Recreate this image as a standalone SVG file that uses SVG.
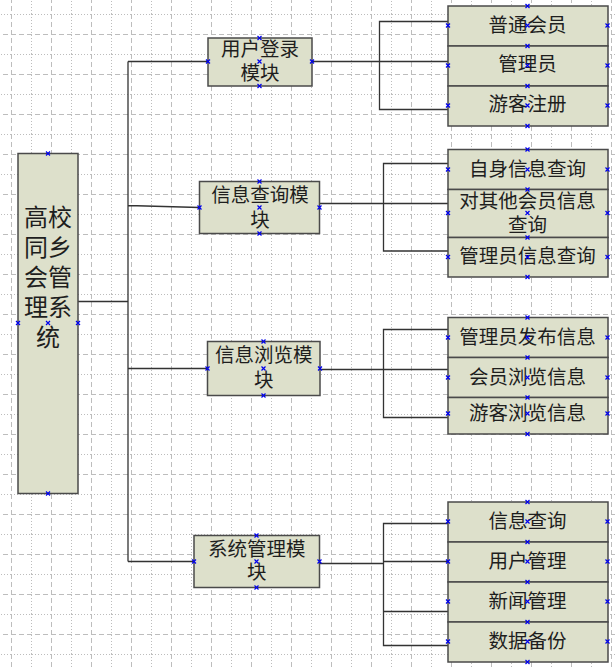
<svg xmlns="http://www.w3.org/2000/svg" xmlns:xlink="http://www.w3.org/1999/xlink" width="615" height="669" viewBox="0 0 615 669">
<style>
.box{fill:#dde0cb;stroke:#4a4a4a;stroke-width:1.5}
.t{font-family:"Liberation Sans","Noto Sans CJK SC","Noto Sans CJK JP",sans-serif;font-size:19.5px;fill:#1e1e1e;text-anchor:middle}
.tm{font-size:24px}
.c{fill:none;stroke:#333;stroke-width:1.3}
.cp{stroke:#0000ee;stroke-width:1.2;fill:none}
</style>
<defs>
<pattern id="grid" patternUnits="userSpaceOnUse" x="11" y="14" width="40" height="40">
<line x1="0.5" y1="0" x2="0.5" y2="40" stroke="#bdbdbd" stroke-dasharray="5 3"/>
<line x1="20.5" y1="0" x2="20.5" y2="40" stroke="#bdbdbd" stroke-dasharray="1 2"/>
<line x1="0" y1="0.5" x2="40" y2="0.5" stroke="#bdbdbd" stroke-dasharray="1 2"/>
<line x1="0" y1="20.5" x2="40" y2="20.5" stroke="#bdbdbd" stroke-dasharray="5 3"/>
</pattern>
<path id="x" class="cp" d="M-2,-2L2,2M-2,2L2,-2"/>
</defs>
<rect width="615" height="669" fill="#fff"/>
<rect width="615" height="669" fill="url(#grid)"/>

<g id="connectors">
<path class="c" d="M78,301.5H128M128,61.5V561.5M128,61.5H208M128,205.5L199.5,207.5M128,368.5H207.5M128,561.5H194"/>
<path class="c" d="M312,61.5H448M448,21.5H379.5V109.5H448"/>
<path class="c" d="M319.5,203.5H448M448,163.5H383.5V251H448"/>
<path class="c" d="M320,369.5H448M448,329.5H383.5V417.5H448"/>
<path class="c" d="M319.5,563.5H383.5M383.5,561.5H448M448,523.5H383.5V645.5H448M383.5,611.5H448"/>
</g>

<g id="main">
<rect class="box" x="18" y="153.5" width="60" height="340"/>
<text class="t tm"><tspan x="48" y="225.8">高校</tspan><tspan x="48" y="255.8">同乡</tspan><tspan x="48" y="285.8">会管</tspan><tspan x="48" y="315.8">理系</tspan><tspan x="48" y="345.8">统</tspan></text>
</g>

<g id="m1">
<rect class="box" x="208" y="38" width="104" height="48"/>
<text class="t"><tspan x="260" y="55.7">用户登录</tspan><tspan x="260" y="79.7">模块</tspan></text>
</g>
<g id="m2">
<rect class="box" x="199.5" y="181.5" width="120" height="52"/>
<text class="t"><tspan x="260" y="202.4">信息查询模</tspan><tspan x="260" y="227.4">块</tspan></text>
</g>
<g id="m3">
<rect class="box" x="207.5" y="341.5" width="112.5" height="54"/>
<text class="t"><tspan x="263.7" y="362.4">信息浏览模</tspan><tspan x="263.7" y="387.4">块</tspan></text>
</g>
<g id="m4">
<rect class="box" x="194" y="535.5" width="125.5" height="52"/>
<text class="t"><tspan x="256.7" y="556.1">系统管理模</tspan><tspan x="256.7" y="579.4">块</tspan></text>
</g>

<g id="g1a"><rect class="box" x="448" y="6" width="160" height="40"/><text class="t" x="527.5" y="31.6">普通会员</text></g>
<g id="g1b"><rect class="box" x="448" y="46" width="160" height="40"/><text class="t" x="527.5" y="71.4">管理员</text></g>
<g id="g1c"><rect class="box" x="448" y="86" width="160" height="40"/><text class="t" x="527.5" y="111.4">游客注册</text></g>

<g id="g2a"><rect class="box" x="448" y="149.5" width="160" height="40"/><text class="t" x="527.5" y="175.7">自身信息查询</text></g>
<g id="g2b"><rect class="box" x="448" y="189.5" width="160" height="48"/><text class="t"><tspan x="527.5" y="208.2">对其他会员信息</tspan><tspan x="527.5" y="232.1">查询</tspan></text></g>
<g id="g2c"><rect class="box" x="448" y="237.5" width="160" height="39.5"/><text class="t" x="527.5" y="262.9">管理员信息查询</text></g>

<g id="g3a"><rect class="box" x="448" y="317.5" width="160" height="40"/><text class="t" x="527.5" y="344.1">管理员发布信息</text></g>
<g id="g3b"><rect class="box" x="448" y="357.5" width="160" height="40"/><text class="t" x="527.5" y="384.4">会员浏览信息</text></g>
<g id="g3c"><rect class="box" x="448" y="397.5" width="160" height="36.5"/><text class="t" x="527.5" y="420.4">游客浏览信息</text></g>

<g id="g4a"><rect class="box" x="448" y="502" width="160" height="40"/><text class="t" x="527.5" y="528.2">信息查询</text></g>
<g id="g4b"><rect class="box" x="448" y="542" width="160" height="40"/><text class="t" x="527.5" y="568.2">用户管理</text></g>
<g id="g4c"><rect class="box" x="448" y="582" width="160" height="40"/><text class="t" x="527.5" y="608.2">新闻管理</text></g>
<g id="g4d"><rect class="box" x="448" y="622" width="160" height="40"/><text class="t" x="527.5" y="648.2">数据备份</text></g>

<g id="connection-points">
<use xlink:href="#x" x="48" y="153.5"/><use xlink:href="#x" x="48" y="323"/><use xlink:href="#x" x="48" y="493.5"/><use xlink:href="#x" x="18" y="323"/><use xlink:href="#x" x="78" y="323"/>
<use xlink:href="#x" x="259.5" y="38"/><use xlink:href="#x" x="259.5" y="61.5"/><use xlink:href="#x" x="259.5" y="86"/><use xlink:href="#x" x="208" y="61.5"/><use xlink:href="#x" x="312" y="61.5"/>
<use xlink:href="#x" x="259.5" y="181.5"/><use xlink:href="#x" x="259.5" y="207.5"/><use xlink:href="#x" x="259.5" y="233.5"/><use xlink:href="#x" x="199.5" y="207.5"/><use xlink:href="#x" x="319.5" y="207.5"/>
<use xlink:href="#x" x="263.5" y="341.5"/><use xlink:href="#x" x="263.5" y="368.5"/><use xlink:href="#x" x="263.5" y="395.5"/><use xlink:href="#x" x="207.5" y="368.5"/><use xlink:href="#x" x="320" y="368.5"/>
<use xlink:href="#x" x="256.5" y="535.5"/><use xlink:href="#x" x="256.5" y="561.5"/><use xlink:href="#x" x="256.5" y="587.5"/><use xlink:href="#x" x="194" y="561.5"/><use xlink:href="#x" x="319.5" y="561.5"/>
<use xlink:href="#x" x="527.5" y="6"/><use xlink:href="#x" x="527.5" y="46"/><use xlink:href="#x" x="527.5" y="86"/><use xlink:href="#x" x="527.5" y="126"/>
<use xlink:href="#x" x="527.5" y="25.5"/><use xlink:href="#x" x="527.5" y="65.5"/><use xlink:href="#x" x="527.5" y="105.5"/>
<use xlink:href="#x" x="448" y="25.5"/><use xlink:href="#x" x="448" y="65.5"/><use xlink:href="#x" x="448" y="105.5"/>
<use xlink:href="#x" x="607.5" y="25.5"/><use xlink:href="#x" x="607.5" y="65.5"/><use xlink:href="#x" x="607.5" y="105.5"/>
<use xlink:href="#x" x="527.5" y="149.5"/><use xlink:href="#x" x="527.5" y="189.5"/><use xlink:href="#x" x="527.5" y="237.5"/><use xlink:href="#x" x="527.5" y="277"/>
<use xlink:href="#x" x="527.5" y="169.5"/><use xlink:href="#x" x="527.5" y="213"/><use xlink:href="#x" x="527.5" y="257"/>
<use xlink:href="#x" x="448" y="169.5"/><use xlink:href="#x" x="448" y="213"/><use xlink:href="#x" x="448" y="257"/>
<use xlink:href="#x" x="607.5" y="169.5"/><use xlink:href="#x" x="607.5" y="213"/><use xlink:href="#x" x="607.5" y="257"/>
<use xlink:href="#x" x="527.5" y="317.5"/><use xlink:href="#x" x="527.5" y="357.5"/><use xlink:href="#x" x="527.5" y="397.5"/><use xlink:href="#x" x="527.5" y="434"/>
<use xlink:href="#x" x="527.5" y="337.5"/><use xlink:href="#x" x="527.5" y="377.5"/><use xlink:href="#x" x="527.5" y="413.5"/>
<use xlink:href="#x" x="448" y="337.5"/><use xlink:href="#x" x="448" y="377.5"/><use xlink:href="#x" x="448" y="413.5"/>
<use xlink:href="#x" x="607.5" y="337.5"/><use xlink:href="#x" x="607.5" y="377.5"/><use xlink:href="#x" x="607.5" y="413.5"/>
<use xlink:href="#x" x="527.5" y="502"/><use xlink:href="#x" x="527.5" y="542"/><use xlink:href="#x" x="527.5" y="582"/><use xlink:href="#x" x="527.5" y="622"/><use xlink:href="#x" x="527.5" y="662"/>
<use xlink:href="#x" x="527.5" y="521.5"/><use xlink:href="#x" x="527.5" y="561.5"/><use xlink:href="#x" x="527.5" y="601.5"/><use xlink:href="#x" x="527.5" y="641.5"/>
<use xlink:href="#x" x="448" y="521.5"/><use xlink:href="#x" x="448" y="561.5"/><use xlink:href="#x" x="448" y="601.5"/><use xlink:href="#x" x="448" y="641.5"/>
<use xlink:href="#x" x="607.5" y="521.5"/><use xlink:href="#x" x="607.5" y="561.5"/><use xlink:href="#x" x="607.5" y="601.5"/><use xlink:href="#x" x="607.5" y="641.5"/>
</g>
</svg>
